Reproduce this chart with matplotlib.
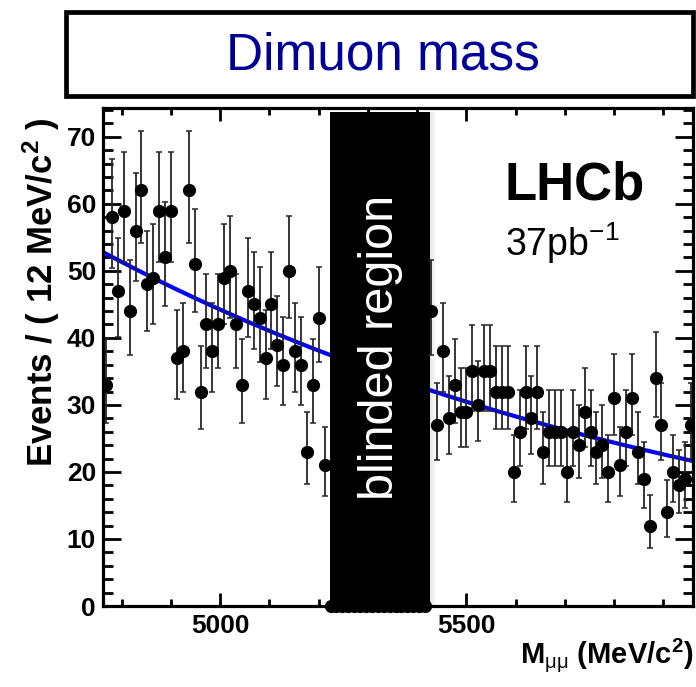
import numpy as np
import matplotlib
matplotlib.use('Agg')
import matplotlib.pyplot as plt
from matplotlib.patches import Rectangle
from matplotlib.ticker import MultipleLocator, FixedLocator

plt.rcParams['font.family'] = ['Liberation Sans', 'DejaVu Sans']
plt.rcParams['mathtext.fontset'] = 'custom'
plt.rcParams['mathtext.rm'] = 'Liberation Sans'
plt.rcParams['mathtext.bf'] = 'Liberation Sans:bold'
plt.rcParams['mathtext.it'] = 'Liberation Sans:italic'
plt.rcParams['mathtext.sf'] = 'Liberation Sans'

# ---------------- data ----------------
bin_start = 4762.0
bin_width = 12.0
n_bins = 100
n_low_bins = 38          # sideband bins below the blinded region
first_high_bin = 55      # first sideband bin above the blinded region

counts_low = [33, 58, 47, 59, 44, 56, 62, 48, 49, 59, 52, 59, 37, 38, 62, 51,
              32, 42, 38, 42, 49, 50, 42, 33, 47, 45, 43, 37, 45, 39, 36, 50,
              38, 36, 23, 33, 43, 21]
counts_high = [44, 27, 38, 28, 33, 29, 29, 35, 30, 35, 35, 32, 32, 32, 20, 26,
               32, 28, 32, 23, 26, 26, 26, 20, 26, 24, 29, 26, 23, 24, 20, 31,
               21, 26, 31, 23, 19, 12, 34, 27, 14, 20, 18, 19, 27]

blind_lo, blind_hi = 5223.0, 5426.0
fit_norm = 52.8          # exponential fit value at x_min
fit_slope = -7.45e-4     # per MeV/c^2

x_min, x_max = 4762.0, 5960.0
y_min, y_max = 0.0, 74.3
x_major = [5000, 5500]
x_tick_labels = ['5000', '5500']

# ---------------- derived ----------------
centers = bin_start + bin_width * (np.arange(n_bins) + 0.5)
x_low = centers[:n_low_bins]
x_high = centers[first_high_bin:]
x_blind = centers[n_low_bins:first_high_bin]
x_pts = np.concatenate([x_low, x_high])
y_pts = np.array(counts_low + counts_high, dtype=float)
err_up = np.sqrt(y_pts + 0.75) + 1.0
err_lo = y_pts - y_pts * (1 - 1 / (9 * y_pts) - 1 / (3 * np.sqrt(y_pts))) ** 3

# ---------------- figure ----------------
W, H = 696, 687
fig = plt.figure(figsize=(W / 100, H / 100), dpi=100)
ax = fig.add_axes([103 / W, 81 / H, 590 / W, 498 / H])

# fit curve
xs = np.linspace(x_min, x_max, 400)
ax.plot(xs, fit_norm * np.exp(fit_slope * (xs - x_min)), color='#0000ff',
        lw=3.0, zorder=2)

# blinded box with soft shadow
ax.add_patch(Rectangle((blind_lo, 0), blind_hi - blind_lo, 73.7,
                       facecolor='black', edgecolor='none', zorder=3))
for k in range(6):
    ax.add_patch(Rectangle((blind_hi + k * 2.0, 0), 2.0, 73.7,
                           facecolor='black', edgecolor='none',
                           alpha=0.10 * (6 - k) / 6, zorder=3))
ax.text((blind_lo + blind_hi) / 2, 38.6, 'blinded region', rotation=90,
        color='white', fontsize=35, ha='center', va='center', zorder=6)

# data points
ax.errorbar(x_pts, y_pts, yerr=[err_lo, err_up], fmt='o', color='black',
            ms=8.5, ecolor='#262626', elinewidth=1.3, capsize=2.2,
            capthick=1.1, zorder=4)
ax.plot(x_blind, np.zeros_like(x_blind), 'o', color='black', ms=8.5,
        clip_on=False, zorder=5)

ax.set_xlim(x_min, x_max)
ax.set_ylim(y_min, y_max)

for s in ax.spines.values():
    s.set_linewidth(2.3)
    s.set_zorder(7)

ax.xaxis.set_major_locator(FixedLocator(x_major))
ax.set_xticklabels(x_tick_labels)
ax.xaxis.set_minor_locator(MultipleLocator(100))
ax.yaxis.set_major_locator(MultipleLocator(10))
ax.yaxis.set_minor_locator(MultipleLocator(2))
ax.tick_params(which='both', direction='in', top=True, right=True,
               width=2.0, labelsize=19)
ax.tick_params(axis='y', which='major', length=13, pad=5)
ax.tick_params(axis='y', which='minor', length=7)
ax.tick_params(axis='x', which='major', length=9.5, pad=6)
ax.tick_params(axis='x', which='minor', length=5)
for lab in ax.get_xticklabels() + ax.get_yticklabels():
    lab.set_fontweight('bold')

ax.set_ylabel(r'Events / ( 12 MeV/c$^{\mathbf{2}}$ )', fontsize=25,
              fontweight='bold')
ax.yaxis.set_label_coords(-0.105, 0.63)
ax.yaxis.label.set_verticalalignment('center')

ax.set_xlabel(r'M$_{\mathrm{\mu\mu}}$ (MeV/c$^{\mathbf{2}}$)', fontsize=21,
              fontweight='bold', loc='right')
ax.xaxis.set_label_coords(1.0, -0.098)
ax.xaxis.label.set_verticalalignment('center')

ax.text((505 - 103) / 590, (606 - 200) / 498, 'LHCb', transform=ax.transAxes,
        fontsize=38, fontweight='bold', ha='left', va='baseline', zorder=8)
ax.text((505 - 103) / 590, (606 - 256) / 498, r'37pb$^{\mathrm{-1}}$',
        transform=ax.transAxes, fontsize=27, ha='left', va='baseline', zorder=8)

# title box
fig.add_artist(Rectangle((66 / W, 1 - 96 / H), (693 - 66) / W, (96 - 12) / H,
                         transform=fig.transFigure, fill=False, lw=3.4,
                         edgecolor='black'))
fig.text(383 / W, 1 - 56 / H, 'Dimuon mass', color='#000099', fontsize=37,
         ha='center', va='center')

fig.savefig('out.png', dpi=100)
